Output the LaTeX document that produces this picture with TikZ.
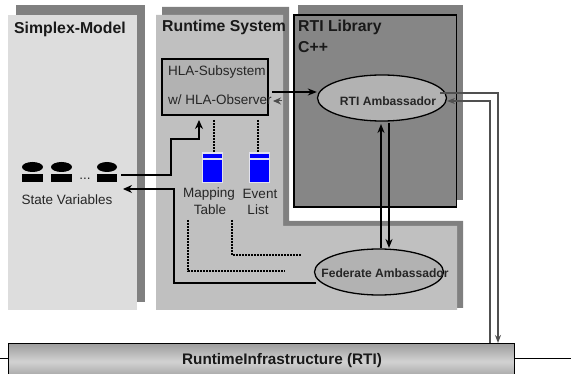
\documentclass[tikz,border=0pt]{standalone}
\usepackage{fontspec}
\setmainfont{Liberation Sans}
\usetikzlibrary{arrows.meta,shapes.geometric}
\definecolor{shadowgrey}{HTML}{808080}
\definecolor{panellight}{HTML}{DDDDDD}
\definecolor{panelmid}{HTML}{C0C0C0}
\definecolor{libgrey}{HTML}{868686}
\definecolor{ellgrey}{HTML}{B2B2B2}
\definecolor{wiregrey}{HTML}{505050}
\definecolor{cellrim}{HTML}{E2E2EE}
\tikzset{
  x=1pt,y=-1pt,
  title/.style={font=\bfseries\fontsize{15.8}{18}\selectfont,anchor=west,inner sep=0pt,text=black!90},
  plain/.style={font=\fontsize{13.5}{16}\selectfont,inner sep=0pt,text=black!85},
  amblabel/.style={font=\bfseries\fontsize{12.1}{14}\selectfont,inner sep=0pt,text=black!85},
  amb/.style={draw=black,line width=1.3pt,fill=ellgrey,ellipse,inner sep=0pt,minimum width=129pt,minimum height=46pt},
  thick arrow/.style={line width=2.2pt,-{Stealth[length=9pt,width=7pt]}},
  wire/.style={line width=1.4pt,draw=black,-{Stealth[length=9pt,width=8pt]}},
  gwire/.style={line width=1.3pt,draw=wiregrey,-{Stealth[length=8pt,width=6pt]}},
  dash wire/.style={line width=1.3pt,dash pattern=on 2pt off 1pt},
  varhead/.style={fill=black,ellipse,inner sep=0pt},
  varbody/.style={fill=black,inner sep=0pt,minimum height=8pt},
}
\newcommand{\tablecell}[2]{%
  \fill[cellrim] (#1-1,#2-1) rectangle (#1+20,#2+30);
  \fill[blue] (#1,#2+1) rectangle (#1+19,#2+5);
  \fill[blue] (#1,#2+7) rectangle (#1+19,#2+29);
}
\begin{document}
\begin{tikzpicture}
\useasboundingbox (0,0) rectangle (571,374);
\fill[white] (0,0) rectangle (571,374);
% Simplex panel
\fill[shadowgrey] (16,5) rectangle (145,302);
\fill[panellight] (8,15) rectangle (137,310);
% Runtime panel
\fill[shadowgrey] (162,7) -| (289,221) -| (463,308) -- (162,308) -- cycle;
\fill[panelmid] (156,15) -| (283,226) -| (457,310) -| cycle;
% RTI library
\fill[shadowgrey] (298,5) rectangle (463,200);
\draw[line width=1.3pt,fill=libgrey] (294,15) rectangle (456.5,207);
\node[title] (t1) at (14,29) {Simplex-Model};
\node[title] (t2) at (162,27) {Runtime System};
\node[title] (t3) at (298,27) {RTI Library};
\node[title] (t4) at (298,47) {C++};
% HLA
\node[draw=black,line width=1.3pt,fill=ellgrey,minimum width=106pt,minimum height=56pt,inner sep=0pt] (hla) at (215,87) {};
\node[plain,anchor=west] (h1) at (168,72) {HLA-Subsystem};
\node[plain,anchor=west] (h2) at (168,100) {w/ HLA-Observer};
% ellipses
\node[amb] (rti) at (382,98) {};
\node[amblabel] (rtil) at (388,101) {RTI Ambassador};
\node[amb] (fed) at (379,272) {};
\node[amblabel] (fedl) at (385,273) {Federate Ambassador};
% RTI bar
\coordinate (le) at (0,359);
\coordinate (re) at (571,359);
\node[draw=black,line width=1pt,top color=panelmid!60!black!70,bottom color=panelmid!60!black!70,middle color=panellight!95!black,shading angle=0,minimum width=506pt,minimum height=36pt,inner sep=0pt,anchor=north west] (bar) at (8,343) {};
\node[font=\bfseries\fontsize{15.3}{18}\selectfont,inner sep=0pt,text=black!90] (barl) at (282,361) {RuntimeInfrastructure (RTI)};
\draw[line width=1pt] (le) -- (bar.west |- le);
\draw[line width=1pt] (bar.east |- re) -- (re);
% State vars
\foreach \n/\x/\w in {a/22/21,b/51/21,c/97/20}{
  \node[varhead,minimum width=\w pt,minimum height=10pt] (h\n) at (\x+\w/2,167) {};
  \node[varbody,minimum width=\w pt] (b\n) at (\x+\w/2,178) {};
}
\node[plain] (dots) at (85,179) {...};
\node[plain] (sv) at (67,200) {State Variables};
% tables
\tablecell{203}{153}
\tablecell{250}{153}
\node[plain] (m1) at (209,194) {Mapping};
\node[plain] (m2) at (210,210) {Table};
\node[plain] (e1) at (260,194) {Event};
\node[plain] (e2) at (258,210) {List};
% connectors
\coordinate (ta) at (121,175);
\coordinate (fa) at (316,283);
\coordinate (sa) at (282,101);
\coordinate (st) at (273,101);
\draw[wire] (ta) -- (171,175) |- (199,139) -- (199,120);
\draw[wire] (fa) -| (174,189) -- (123,189);
\draw[thick arrow,line width=1.9pt] (272,92) -- (rti.west |- 0,92);
\draw[line width=1pt,draw=black!70,-{Stealth[length=8pt,width=7pt]}] (sa) -- (st);
\draw[thick arrow] (381,248) -- (381,124);
\draw[thick arrow] (389,123) -- (389,248);
\draw[gwire] (440,93) -| (498,343);
\draw[gwire] (490,343) |- (447,101);
\draw[dash wire] (214,120) -- (214,152);
\draw[dash wire] (258,120) -- (258,152);
\draw[dash wire] (188,220) |- (285,271);
\draw[dash wire] (232,220) |- (301,255);
\end{tikzpicture}
\end{document}
